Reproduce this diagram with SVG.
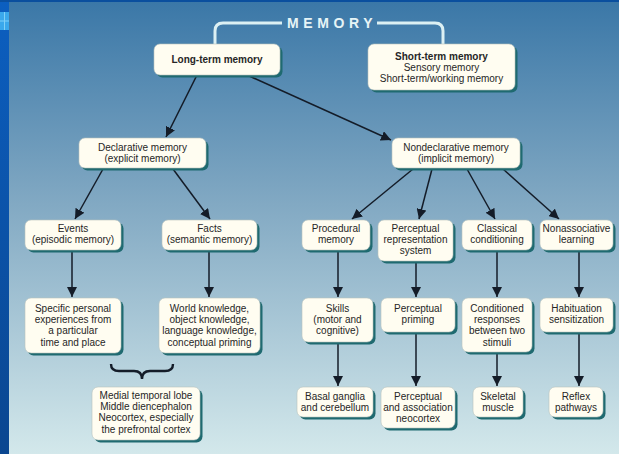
<svg xmlns="http://www.w3.org/2000/svg" width="619" height="454" viewBox="0 0 619 454">
<defs>
<linearGradient id="bg" x1="0" y1="0" x2="0" y2="1">
<stop offset="0" stop-color="#3a77a7"/>
<stop offset="0.45" stop-color="#82a9c3"/>
<stop offset="1" stop-color="#d3e8eb"/>
</linearGradient>
<linearGradient id="edge" x1="0" y1="0" x2="0" y2="1">
<stop offset="0" stop-color="#0c5fc0"/>
<stop offset="1" stop-color="#0a4690"/>
</linearGradient>
<marker id="ah" viewBox="0 0 10 10" refX="10" refY="5" markerWidth="10" markerHeight="10" markerUnits="userSpaceOnUse" orient="auto">
<path d="M0,0 L10,5 L0,10 Z" fill="#141c28"/>
</marker>
</defs>
<style>
.box{fill:#fffdf1;stroke:#b9c2bd;stroke-width:0.6}
.sh{fill:#1f6a70}
text{font-family:"Liberation Sans",Arial,sans-serif;font-size:10px;fill:#262626;text-anchor:middle}
.b{font-weight:bold}
.c{stroke:#141c28;stroke-width:1.5;fill:none;marker-end:url(#ah)}
</style>
<rect x="0" y="0" width="619" height="454" fill="url(#bg)"/>
<rect x="0" y="0" width="9" height="454" fill="url(#edge)"/>
<rect x="0" y="0" width="619" height="2" fill="#0a4f9e"/>
<rect x="0" y="12" width="9" height="18" fill="#3aa8ec"/>
<path d="M0,21 H9 M4.5,12 V30" stroke="#7fd0f8" stroke-width="1"/>

<g id="title">
<path d="M215,44 V31 Q215,23 223,23 H282 M377,23 H435 Q443,23 443,31 V44" stroke="#dcf0f3" stroke-width="3" fill="none"/>
<text x="287" y="28" class="b" style="font-size:14px;fill:#e6f4f6;letter-spacing:4.6px;text-anchor:start">MEMORY</text>
</g>

<g id="connectors">
<line class="c" x1="197" y1="75" x2="166" y2="137"/>
<line class="c" x1="247" y1="75" x2="391" y2="140"/>
<line class="c" x1="103" y1="169" x2="75" y2="219"/>
<line class="c" x1="173" y1="169" x2="210" y2="219"/>
<line class="c" x1="413" y1="169" x2="352" y2="219"/>
<line class="c" x1="432" y1="169" x2="419" y2="219"/>
<line class="c" x1="467" y1="169" x2="495" y2="219"/>
<line class="c" x1="503" y1="169" x2="559" y2="219"/>
<line class="c" x1="72" y1="251" x2="72" y2="297"/>
<line class="c" x1="209" y1="251" x2="209" y2="297"/>
<line class="c" x1="338" y1="251" x2="338" y2="297"/>
<line class="c" x1="416" y1="262" x2="416" y2="297"/>
<line class="c" x1="497" y1="251" x2="497" y2="297"/>
<line class="c" x1="579" y1="251" x2="579" y2="297"/>
<line class="c" x1="338" y1="343" x2="338" y2="386"/>
<line class="c" x1="416" y1="333" x2="416" y2="386"/>
<line class="c" x1="497" y1="353" x2="497" y2="386"/>
<line class="c" x1="579" y1="333" x2="579" y2="386"/>
<path d="M111,364 Q111,371 119,371 H134 Q142,371 142,379 Q142,371 150,371 H165 Q173,371 173,364" stroke="#141c28" stroke-width="2.4" fill="none"/>
</g>

<g id="longterm">
<rect class="sh" x="156.5" y="46.5" width="126" height="31" rx="6"/>
<rect class="box" x="154" y="44" width="126" height="31" rx="6"/>
<text x="217" y="62.5" class="b">Long-term memory</text>
</g>
<g id="shortterm">
<rect class="sh" x="370.5" y="46.5" width="147" height="46" rx="6"/>
<rect class="box" x="368" y="44" width="147" height="46" rx="6"/>
<text x="441.5" y="59.5" class="b">Short-term memory</text>
<text x="441.5" y="70.5">Sensory memory</text>
<text x="441.5" y="81.5">Short-term/working memory</text>
</g>
<g id="declarative">
<rect class="sh" x="81.5" y="140.5" width="127" height="30" rx="6"/>
<rect class="box" x="79" y="138" width="127" height="30" rx="6"/>
<text x="142.5" y="150.5">Declarative memory</text>
<text x="142.5" y="161.5">(explicit memory)</text>
</g>
<g id="nondeclarative">
<rect class="sh" x="394.5" y="140.5" width="128" height="30" rx="6"/>
<rect class="box" x="392" y="138" width="128" height="30" rx="6"/>
<text x="456" y="150.5">Nondeclarative memory</text>
<text x="456" y="161.5">(implicit memory)</text>
</g>
<g id="events">
<rect class="sh" x="27.5" y="222.5" width="96" height="30" rx="6"/>
<rect class="box" x="25" y="220" width="96" height="30" rx="6"/>
<text x="73" y="231.5">Events</text>
<text x="73" y="242.5">(episodic memory)</text>
</g>
<g id="facts">
<rect class="sh" x="164.5" y="222.5" width="95" height="30" rx="6"/>
<rect class="box" x="162" y="220" width="95" height="30" rx="6"/>
<text x="209.5" y="231.5">Facts</text>
<text x="209.5" y="242.5">(semantic memory)</text>
</g>
<g id="procedural">
<rect class="sh" x="304.5" y="222.5" width="68" height="30" rx="6"/>
<rect class="box" x="302" y="220" width="68" height="30" rx="6"/>
<text x="336" y="231.5">Procedural</text>
<text x="336" y="242.5">memory</text>
</g>
<g id="perceptualrep">
<rect class="sh" x="380.5" y="222.5" width="75" height="41" rx="6"/>
<rect class="box" x="378" y="220" width="75" height="41" rx="6"/>
<text x="415.5" y="231.5">Perceptual</text>
<text x="415.5" y="242.5">representation</text>
<text x="415.5" y="254">system</text>
</g>
<g id="classical">
<rect class="sh" x="464.5" y="222.5" width="70" height="30" rx="6"/>
<rect class="box" x="462" y="220" width="70" height="30" rx="6"/>
<text x="497" y="231.5">Classical</text>
<text x="497" y="242.5">conditioning</text>
</g>
<g id="nonassociative">
<rect class="sh" x="542.5" y="222.5" width="73" height="30" rx="6"/>
<rect class="box" x="540" y="220" width="73" height="30" rx="6"/>
<text x="576.5" y="231.5">Nonassociative</text>
<text x="576.5" y="242.5">learning</text>
</g>
<g id="specific">
<rect class="sh" x="27.5" y="300.5" width="96" height="55" rx="6"/>
<rect class="box" x="25" y="298" width="96" height="55" rx="6"/>
<text x="73" y="311.5">Specific personal</text>
<text x="73" y="322.5">experiences from</text>
<text x="73" y="334">a particular</text>
<text x="73" y="345.5">time and place</text>
</g>
<g id="world">
<rect class="sh" x="161.5" y="300.5" width="101" height="55" rx="6"/>
<rect class="box" x="159" y="298" width="101" height="55" rx="6"/>
<text x="209.5" y="311.5">World knowledge,</text>
<text x="209.5" y="322.5">object knowledge,</text>
<text x="209.5" y="334">language knowledge,</text>
<text x="209.5" y="345.5">conceptual priming</text>
</g>
<g id="skills">
<rect class="sh" x="304.5" y="300.5" width="71" height="44" rx="6"/>
<rect class="box" x="302" y="298" width="71" height="44" rx="6"/>
<text x="337.5" y="311.5">Skills</text>
<text x="337.5" y="322.5">(motor and</text>
<text x="337.5" y="334">cognitive)</text>
</g>
<g id="priming">
<rect class="sh" x="383.5" y="300.5" width="74" height="34" rx="6"/>
<rect class="box" x="381" y="298" width="74" height="34" rx="6"/>
<text x="418" y="311.5">Perceptual</text>
<text x="418" y="322.5">priming</text>
</g>
<g id="conditioned">
<rect class="sh" x="464.5" y="300.5" width="70" height="54" rx="6"/>
<rect class="box" x="462" y="298" width="70" height="54" rx="6"/>
<text x="497" y="311.5">Conditioned</text>
<text x="497" y="322.5">responses</text>
<text x="497" y="334">between two</text>
<text x="497" y="345.5">stimuli</text>
</g>
<g id="habituation">
<rect class="sh" x="542.5" y="300.5" width="73" height="34" rx="6"/>
<rect class="box" x="540" y="298" width="73" height="34" rx="6"/>
<text x="576.5" y="311.5">Habituation</text>
<text x="576.5" y="322.5">sensitization</text>
</g>
<g id="medial">
<rect class="sh" x="94.5" y="389.5" width="108" height="53" rx="6"/>
<rect class="box" x="92" y="387" width="108" height="53" rx="6"/>
<text x="146" y="398.5">Medial temporal lobe</text>
<text x="146" y="410">Middle diencephalon</text>
<text x="146" y="421">Neocortex, especially</text>
<text x="146" y="432.5">the prefrontal cortex</text>
</g>
<g id="basal">
<rect class="sh" x="299.5" y="389.5" width="76" height="30" rx="6"/>
<rect class="box" x="297" y="387" width="76" height="30" rx="6"/>
<text x="335" y="399.5">Basal ganglia</text>
<text x="335" y="410.5">and cerebellum</text>
</g>
<g id="association">
<rect class="sh" x="383.5" y="389.5" width="74" height="41" rx="6"/>
<rect class="box" x="381" y="387" width="74" height="41" rx="6"/>
<text x="418" y="399.5">Perceptual</text>
<text x="418" y="410.5">and association</text>
<text x="418" y="422">neocortex</text>
</g>
<g id="skeletal">
<rect class="sh" x="475.5" y="389.5" width="50" height="30" rx="6"/>
<rect class="box" x="473" y="387" width="50" height="30" rx="6"/>
<text x="498" y="399.5">Skeletal</text>
<text x="498" y="410.5">muscle</text>
</g>
<g id="reflex">
<rect class="sh" x="551.5" y="389.5" width="54" height="30" rx="6"/>
<rect class="box" x="549" y="387" width="54" height="30" rx="6"/>
<text x="576" y="399.5">Reflex</text>
<text x="576" y="410.5">pathways</text>
</g>
</svg>
